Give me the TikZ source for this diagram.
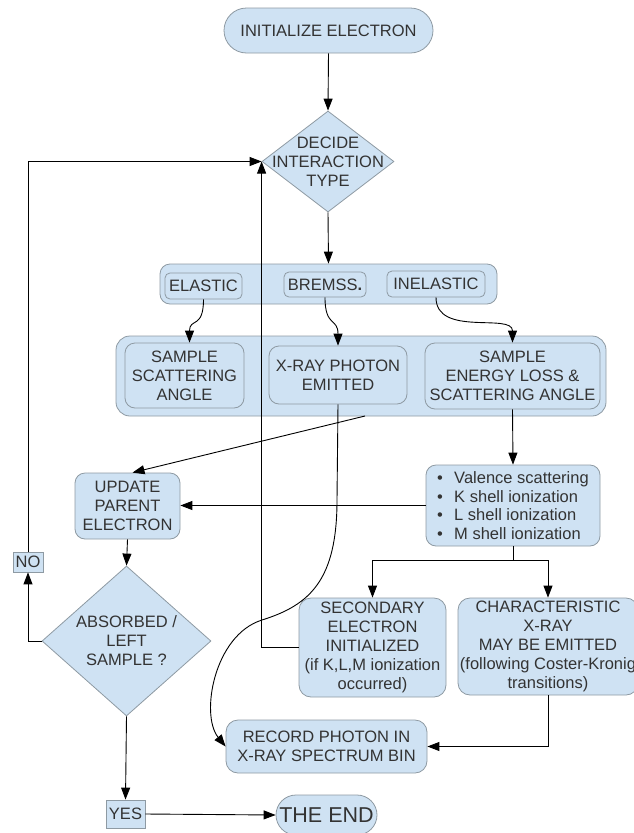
\documentclass[tikz,border=0pt]{standalone}
\usepackage{fontspec}
\setmainfont{Liberation Sans}
\usetikzlibrary{arrows.meta,shapes.geometric}
\definecolor{boxblue}{HTML}{CFE2F3}
\definecolor{edgegray}{HTML}{8E9AA3}
\definecolor{txtgray}{HTML}{333333}
\begin{document}
\begin{tikzpicture}[x=1pt,y=-1pt,
  every node/.style={text=txtgray, font=\fontsize{16.5}{19}\selectfont, align=center},
  box/.style={draw=edgegray, fill=boxblue, rounded corners=8pt, inner sep=0pt, line width=0.8pt},
  sqbox/.style={draw=edgegray, fill=boxblue, inner sep=0pt, line width=0.8pt},
  dia/.style={draw=edgegray, fill=boxblue, diamond, inner sep=0pt, line width=0.8pt},
  arr/.style={-{Triangle[length=12pt,width=9pt]}, line width=0.9pt, draw=black},
  ln/.style={line width=0.9pt, draw=black}]
\useasboundingbox (0,0) rectangle (633,833);

% nodes
\node[box, rounded corners=22.5pt, minimum width=209pt, minimum height=45pt] (init) at (328.5,30.5) {INITIALIZE ELECTRON};
\node[dia, minimum width=132pt, minimum height=101pt] (decide) at (328,161.5) {};
\node (decidet) at (decide.center) {DECIDE\\INTERACTION\\TYPE};

\node[box, rounded corners=10pt, minimum width=337pt, minimum height=40pt] (band1) at (328.5,284) {};
\node[box, rounded corners=5pt, minimum width=77pt, minimum height=26pt] (elastic) at (203.5,286) {ELASTIC};
\node[box, rounded corners=5pt, minimum width=82pt, minimum height=25pt] (brem) at (325,284.5) {BREMSS{\bfseries .}};
\node[box, rounded corners=5pt, minimum width=98pt, minimum height=26pt] (inel) at (436,284) {INELASTIC};

\node[box, rounded corners=14pt, minimum width=490pt, minimum height=80pt] (band2) at (361,376) {};
\node[box, rounded corners=10pt, minimum width=119pt, minimum height=65pt] (ssa) at (184.5,375.5) {SAMPLE\\SCATTERING\\ANGLE};
\node[box, rounded corners=10pt, minimum width=138pt, minimum height=58pt] (xp) at (338,375) {X-RAY PHOTON\\EMITTED};
\node[box, rounded corners=10pt, minimum width=175pt, minimum height=66pt] (sel) at (512.5,376) {SAMPLE\\ENERGY LOSS \&\\SCATTERING ANGLE};

\node[box, rounded corners=10pt, minimum width=105pt, minimum height=66pt] (upd) at (127.5,506) {UPDATE\\PARENT\\ELECTRON};
\node[box, rounded corners=10pt, minimum width=174pt, minimum height=81pt, align=left, font=\fontsize{16.5}{18.5}\selectfont] (val) at (513,505.5)
  {\makebox[17pt][l]{•}Valence scattering\\\makebox[17pt][l]{•}K shell ionization\\\makebox[17pt][l]{•}L shell ionization\\\makebox[17pt][l]{•}M shell ionization};

\node[box, rounded corners=12pt, minimum width=147pt, minimum height=99pt] (sec) at (372.5,647.5) {SECONDARY\\ELECTRON\\INITIALIZED\\(if K,L,M ionization\\occurred)};
\node[box, rounded corners=12pt, minimum width=180pt, minimum height=97pt] (char) at (548,646.5) {CHARACTERISTIC\\X-RAY\\MAY BE EMITTED\\(following Coster-Kronig\\transitions)};
\node[box, rounded corners=12pt, minimum width=201pt, minimum height=53pt] (rec) at (326.5,746.5) {RECORD PHOTON IN\\X-RAY SPECTRUM BIN};

\node[dia, minimum width=169pt, minimum height=150pt] (abs) at (126.5,641) {};
\node (abst) at (abs.center) {ABSORBED /\\LEFT\\SAMPLE ?};
\node[sqbox, minimum width=30pt, minimum height=20pt] (no) at (28,562) {NO};
\node[sqbox, minimum width=39pt, minimum height=28pt] (yes) at (125.5,814) {YES};
\node[box, rounded corners=20pt, minimum width=101pt, minimum height=40pt, font=\fontsize{21.5}{24}\selectfont] (theend) at (326.5,815) {THE END};

% connectors
\draw[arr] (init.south) -- (decide.north);
\draw[arr] (decide.south) -- (band1.north);
\draw[arr] (elastic.south) .. controls +(0,30) and +(0,-25) .. ([xshift=5pt]ssa.north);
\draw[arr] (brem.south) .. controls +(0,30) and +(0,-28) .. (xp.north);
\draw[arr] (inel.south) .. controls +(0,40) and +(0,-30) .. (sel.north);
\coordinate (b2out) at (365,416);
\draw[arr] (b2out) -- ([xshift=5pt]upd.north);
\draw[arr] (sel.south) -- (val.north);
\draw[arr] (val.west) -- (val.west -| upd.east);
\coordinate (split) at (513,560);
\draw[ln] (val.south) -- (split);
\draw[arr] (split) -| (sec.north);
\draw[arr] (split) -| (char.north);
\draw[arr] (sec.west) -| (decide.west);
\draw[arr] (upd.south) -- (abs.north);
\draw[arr] (abs.west) -| (no.south);
\draw[arr] (no.north) |- (decide.west);
\draw[arr] (abs.south) -- (yes.north);
\draw[arr] (yes.east) -- (theend.west);
\draw[arr] (char.south) |- (rec.east);
\draw[arr] (xp.south) -- (337,500) .. controls (337,580) and (310,605) .. (262,620)
   .. controls (214,635) and (200,715) .. (rec.west);
\end{tikzpicture}
\end{document}
